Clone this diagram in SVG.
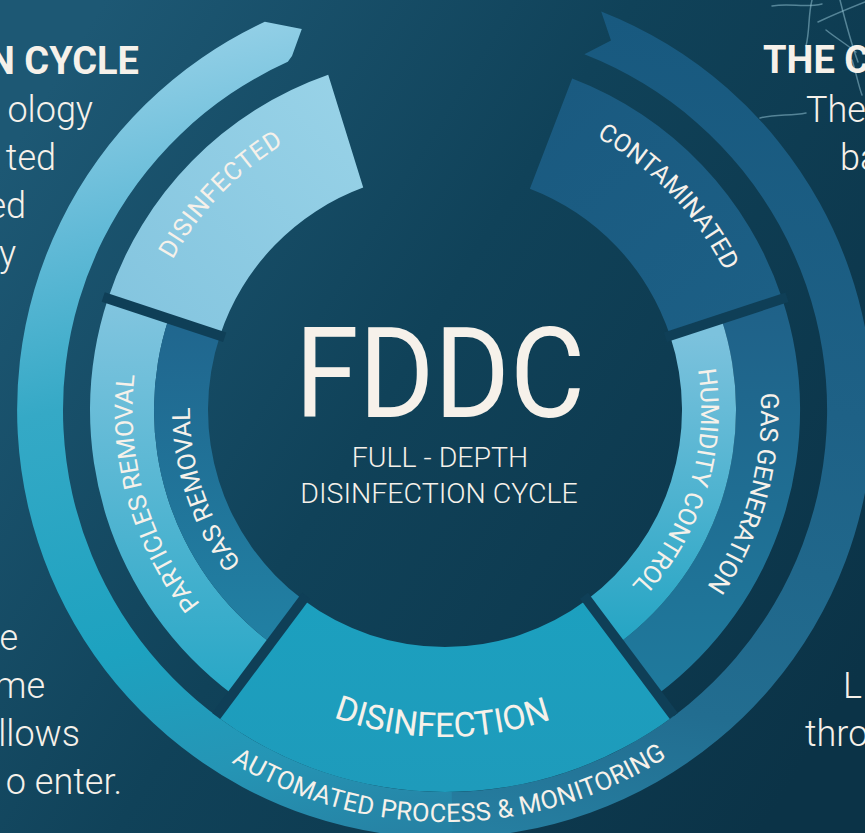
<svg xmlns="http://www.w3.org/2000/svg" width="865" height="833" viewBox="0 0 865 833">
<defs>
  <linearGradient id="bg" x1="0" y1="0.2" x2="1" y2="0.8">
    <stop offset="0" stop-color="#1d5874"/>
    <stop offset="0.45" stop-color="#104259"/>
    <stop offset="1" stop-color="#0b3347"/>
  </linearGradient>
  <linearGradient id="ringR" gradientUnits="userSpaceOnUse" x1="601" y1="11" x2="445" y2="838">
    <stop offset="0" stop-color="#18597f"/>
    <stop offset="0.42" stop-color="#1e6186"/>
    <stop offset="0.8" stop-color="#226d90"/>
    <stop offset="1" stop-color="#2680a2"/>
  </linearGradient>
  <linearGradient id="ringL" gradientUnits="userSpaceOnUse" x1="445" y1="838" x2="265" y2="22">
    <stop offset="0" stop-color="#2680a2"/>
    <stop offset="0.14" stop-color="#2595b5"/>
    <stop offset="0.3" stop-color="#1da2c0"/>
    <stop offset="0.6" stop-color="#35a9c6"/>
    <stop offset="0.8" stop-color="#62bad7"/>
    <stop offset="1" stop-color="#92cfe6"/>
  </linearGradient>
  <linearGradient id="gDisinfected" gradientUnits="userSpaceOnUse" x1="330" y1="75" x2="108" y2="300">
    <stop offset="0" stop-color="#98d2e7"/>
    <stop offset="1" stop-color="#84c5df"/>
  </linearGradient>
  <linearGradient id="gContam" gradientUnits="userSpaceOnUse" x1="560" y1="80" x2="760" y2="320">
    <stop offset="0" stop-color="#1a5a80"/>
    <stop offset="1" stop-color="#1c5f85"/>
  </linearGradient>
  <linearGradient id="gGasGen" gradientUnits="userSpaceOnUse" x1="0" y1="300" x2="0" y2="695">
    <stop offset="0" stop-color="#1f6188"/>
    <stop offset="1" stop-color="#1f7a9d"/>
  </linearGradient>
  <linearGradient id="gHumid" gradientUnits="userSpaceOnUse" x1="0" y1="335" x2="0" y2="640">
    <stop offset="0" stop-color="#7cc2dd"/>
    <stop offset="1" stop-color="#25a5c4"/>
  </linearGradient>
  <linearGradient id="gPart" gradientUnits="userSpaceOnUse" x1="0" y1="300" x2="0" y2="694">
    <stop offset="0" stop-color="#82c5df"/>
    <stop offset="1" stop-color="#28a7c6"/>
  </linearGradient>
  <linearGradient id="gGasRem" gradientUnits="userSpaceOnUse" x1="0" y1="320" x2="0" y2="640">
    <stop offset="0" stop-color="#20668e"/>
    <stop offset="1" stop-color="#2180a3"/>
  </linearGradient>
  <linearGradient id="gDisinfection" gradientUnits="userSpaceOnUse" x1="0" y1="600" x2="0" y2="790">
    <stop offset="0" stop-color="#1ca0bf"/>
    <stop offset="1" stop-color="#1e9bbb"/>
  </linearGradient>

  <path id="tpDisinfected" d="M 146.2 496.2 A 311 311 0 0 1 519.7 108.1"/>
  <path id="tpContam" d="M 371.1 106.9 A 312 312 0 0 1 744.5 497.6"/>
  <path id="tpGasGen" d="M 670.4 188.5 A 316 316 0 0 1 524.1 715.9"/>
  <path id="tpHumid" d="M 632.5 235.7 A 256 256 0 0 1 502.2 659.5"/>
  <path id="tpPart" d="M 369.4 713.2 A 312.5 312.5 0 0 1 220.2 192.9"/>
  <path id="tpGasRem" d="M 392.9 659.6 A 255 255 0 0 1 254.9 240.0"/>
  <path id="tpDisinfection" d="M 160.4 571.0 A 327 327 0 0 0 726.7 576.0"/>
  <path id="tpAuto" d="M 90.7 620.3 A 412 412 0 0 0 804.3 611.6"/>
</defs>
<style>
  .t { font-family: Roboto, "Liberation Sans", sans-serif; fill: #f6f1ea; }
  .side { font-size: 36px; font-weight: 300; }
  .head { font-size: 38px; font-weight: 700; }
  .lbl { font-size: 25px; font-weight: 400; }
  .gap { stroke: #0f3f57; stroke-width: 10; stroke-linecap: butt; fill: none; }
</style>

<rect id="background" x="0" y="0" width="865" height="833" fill="url(#bg)"/>

<g id="decor" fill="none" stroke="#9ccbdb" stroke-opacity="0.5" stroke-width="1.5" stroke-linecap="round">
  <path d="M 772 6 C 790 3 805 8 822 4"/>
  <path d="M 812 0 C 808 15 810 30 806 46"/>
  <path d="M 818 22 C 835 14 850 8 865 2"/>
  <path d="M 826 30 C 836 38 846 44 856 52"/>
  <path d="M 840 0 C 845 20 850 40 858 62"/>
  <path d="M 852 60 C 856 72 858 84 862 95"/>
  <path d="M 760 118 C 775 114 790 116 806 113"/>
</g>

<g id="side-text" class="t">
  <text class="t head" x="139" y="74" text-anchor="end">N CYCLE</text>
  <text class="t side" x="93" y="122" text-anchor="end">ology</text>
  <text class="t side" x="56" y="170" text-anchor="end">ted</text>
  <text class="t side" x="26" y="218" text-anchor="end">ed</text>
  <text class="t side" x="16" y="266" text-anchor="end">y</text>
  <text class="t side" x="18" y="650" text-anchor="end">e</text>
  <text class="t side" x="45" y="698" text-anchor="end">me</text>
  <text class="t side" x="80" y="746" text-anchor="end">llows</text>
  <text class="t side" x="122" y="794" text-anchor="end">o enter.</text>
  <text class="t head" x="763" y="73">THE C</text>
  <text class="t side" x="806" y="122">The</text>
  <text class="t side" x="840" y="170">ba</text>
  <text class="t side" x="843" y="698">L</text>
  <text class="t side" x="805" y="746">thro</text>
</g>

<g id="connectors">
  <path id="cycle-arrow-right" fill="url(#ringR)" d="M 601.2 11.5 A 428 428 0 0 1 445 838 L 445 792 A 382 382 0 0 0 584.4 54.3 L 611 40.6 Z"/>
  <path id="cycle-arrow-left" fill="url(#ringL)" d="M 452.5 837.9 A 428 428 0 0 1 264.8 21.8 L 301.8 29.0 L 292 56 L 287.8 61.8 A 382 382 0 0 0 451.7 791.9 Z"/>
  <text class="t" font-size="25.5" letter-spacing="0.3"><textPath href="#tpAuto" startOffset="50%" text-anchor="middle">AUTOMATED PROCESS &amp; MONITORING</textPath></text>
</g>

<g id="node-disinfected">
  <path fill="url(#gDisinfected)" d="M 108.0 298.5 A 355 355 0 0 1 328.2 74.7 L 363.2 187.6 A 237 237 0 0 0 220.0 335.6 Z"/>
  <text class="t lbl" font-size="26" letter-spacing="1"><textPath href="#tpDisinfected" startOffset="50%" text-anchor="middle">DISINFECTED</textPath></text>
</g>

<g id="node-contaminated">
  <path fill="url(#gContam)" d="M 572.2 78.6 A 355 355 0 0 1 782.2 298.8 L 670.1 335.8 A 237 237 0 0 0 529.9 188.7 Z"/>
  <text class="t lbl" font-size="26"><textPath href="#tpContam" startOffset="50%" text-anchor="middle">CONTAMINATED</textPath></text>
</g>

<g id="node-gas-generation">
  <path fill="url(#gGasGen)" d="M 782.2 298.8 A 355 355 0 0 1 657.7 694.3 L 619.3 643.0 A 291 291 0 0 0 721.4 318.9 Z"/>
  <text class="t lbl" font-size="26"><textPath href="#tpGasGen" startOffset="50%" text-anchor="middle">GAS GENERATION</textPath></text>
</g>

<g id="node-humidity-control">
  <path fill="url(#gHumid)" d="M 721.4 318.9 A 291 291 0 0 1 619.3 643.0 L 587.0 599.8 A 237 237 0 0 0 670.1 335.8 Z"/>
  <text class="t lbl"><textPath href="#tpHumid" startOffset="50%" text-anchor="middle">HUMIDITY CONTROL</textPath></text>
</g>

<g id="node-disinfection">
  <path fill="url(#gDisinfection)" d="M 673.8 715.9 A 382 382 0 0 1 216.2 715.9 L 303.0 599.8 A 237 237 0 0 0 587.0 599.8 Z"/>
  <text class="t" font-size="34"><textPath href="#tpDisinfection" startOffset="50%" text-anchor="middle">DISINFECTION</textPath></text>
</g>

<g id="node-particles-removal">
  <path fill="url(#gPart)" d="M 232.3 694.3 A 355 355 0 0 1 108.0 298.5 L 168.7 318.6 A 291 291 0 0 0 270.7 643.0 Z"/>
  <text class="t lbl" font-size="24"><textPath href="#tpPart" startOffset="50%" text-anchor="middle">PARTICLES REMOVAL</textPath></text>
</g>

<g id="node-gas-removal">
  <path fill="url(#gGasRem)" d="M 270.7 643.0 A 291 291 0 0 1 168.7 318.6 L 220.0 335.6 A 237 237 0 0 0 303.0 599.8 Z"/>
  <text class="t lbl"><textPath href="#tpGasRem" startOffset="50%" text-anchor="middle">GAS REMOVAL</textPath></text>
</g>

<g id="gaps">
  <line class="gap" x1="665.4" y1="337.3" x2="787.0" y2="297.3"/>
  <line class="gap" x1="224.7" y1="337.2" x2="103.2" y2="297.0"/>
  <line class="gap" x1="584.0" y1="595.8" x2="673.8" y2="715.9"/>
  <line class="gap" x1="306.0" y1="595.8" x2="216.2" y2="715.9"/>
</g>

<g id="node-center">
  <text class="t" x="440" y="417" font-size="127" text-anchor="middle" textLength="290" lengthAdjust="spacingAndGlyphs">FDDC</text>
  <text class="t" x="440" y="467" font-size="28.5" font-weight="300" text-anchor="middle">FULL - DEPTH</text>
  <text class="t" x="439" y="503" font-size="28.5" font-weight="300" text-anchor="middle">DISINFECTION CYCLE</text>
</g>
</svg>
